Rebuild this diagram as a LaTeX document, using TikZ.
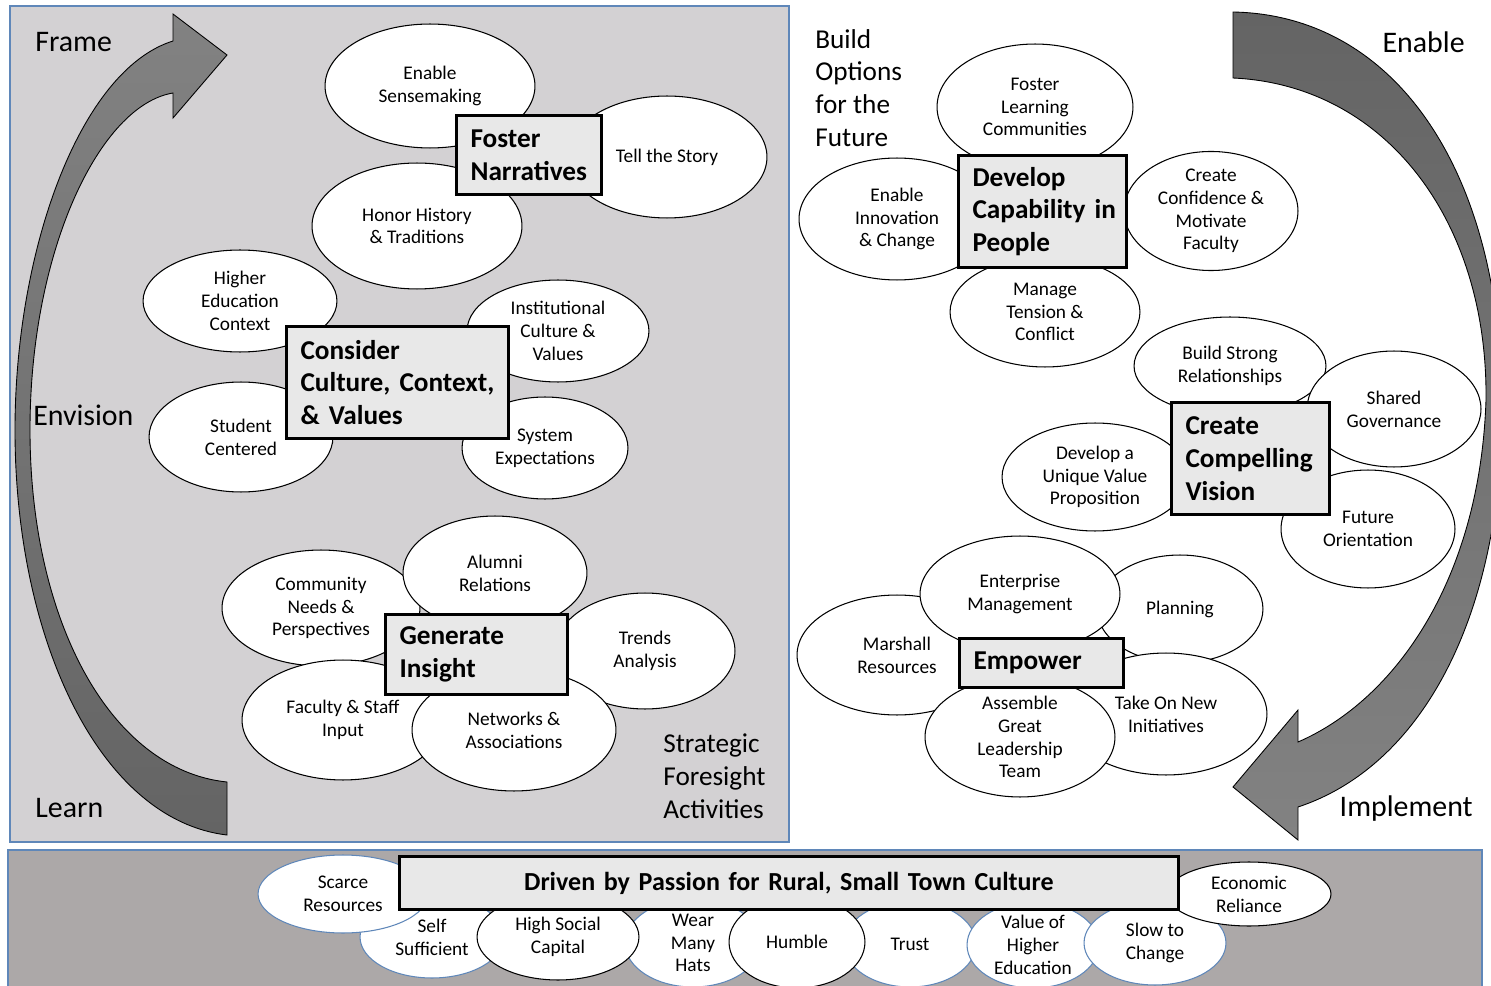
\documentclass[tikz,border=0pt]{standalone}
\usepackage{fontspec}
\setmainfont{Carlito}
\usepackage{xcolor}
\usepackage{tikz}
\usetikzlibrary{shapes.geometric}
\definecolor{panel}{RGB}{211,209,211}
\definecolor{band}{RGB}{172,168,168}
\definecolor{edgeblue}{RGB}{95,135,185}
\definecolor{boxfill}{RGB}{232,232,232}
\definecolor{arrowdark}{RGB}{100,100,100}
\definecolor{arrowlight}{RGB}{130,130,130}

\begin{document}
\begin{tikzpicture}[x=0.02cm, y=-0.02cm,
  bubble/.style={ellipse, draw=black, line width=0.6pt, fill=white, inner sep=0pt, align=center, font=\fontsize{11}{13}\selectfont},
  core/.style={rectangle, draw=black, line width=1.7pt, fill=boxfill, anchor=north west, align=left, inner xsep=8pt, inner ysep=0pt, font=\bfseries\fontsize{15.5}{18.7}\selectfont},
  tag/.style={font=\fontsize{17}{20}\selectfont, inner sep=0pt},
  note/.style={font=\fontsize{15.5}{18.7}\selectfont, align=left, inner sep=0pt}]
 \useasboundingbox (0,0) rectangle (1491,986);
 \draw[fill=panel, draw=edgeblue, line width=0.8pt] (10,6) rectangle (789,842);
 \draw[fill=band, draw=edgeblue, line width=0.8pt] (8,850) rectangle (1482,995);

 \draw[top color=arrowlight, bottom color=arrowdark, line width=0.5pt]
   (227,835) .. controls (100,820) and (15,640) .. (15,430)
   .. controls (15,250) and (80,70) .. (173,41) -- (173,14) -- (227,55) -- (173,118) -- (173,93)
   .. controls (100,105) and (30,250) .. (30,430)
   .. controls (30,620) and (110,770) .. (227,782) -- cycle;
 \draw[top color=arrowdark, bottom color=arrowlight, line width=0.5pt]
   (1233,12) .. controls (1395,15) and (1500,170) .. (1502,400)
   .. controls (1504,610) and (1425,765) .. (1298,807) -- (1298,840) -- (1233,787) -- (1298,710) -- (1298,742)
   .. controls (1395,700) and (1480,580) .. (1486,400)
   .. controls (1488,220) and (1385,85) .. (1233,78) -- cycle;

 \foreach \nm/\cx/\cy/\rx/\ry/\txt in {
   sense/430/86/105/62/{Enable\\Sensemaking}, story/667/157/100/61/{Tell the Story},
   honor/417/226/105/63/{Honor History\\\& Traditions},
   hecontext/240/301/97/51/{Higher\\Education\\Context}, instcult/558/331/91/51/{Institutional\\Culture \&\\Values},
   student/241/437/92/55/{Student\\Centered}, sysexp/545/448/83/51/{System\\Expectations},
   commneeds/321/608/99/58/{Community\\Needs \&\\Perspectives}, alumni/495/573/92/57/{Alumni\\Relations},
   trends/645/651/90/58/{Trends\\Analysis}, facstaff/343/720/101/60/{Faculty \& Staff\\Input},
   networks/514/730/102/61/{Networks \&\\Associations},
   learncomm/1035/107/98/63/{Foster\\Learning\\Communities}, innov/897/219/98/61/{Enable\\Innovation\\\& Change},
   confid/1211/211/87/57/{Create\\Confidence \&\\Motivate\\Faculty}, tension/1045/312/95/55/{Manage\\Tension \&\\Conflict},
   relations/1230/366/96/49/{Build Strong\\Relationships}, governance/1394/409/87/58/{Shared\\Governance},
   uniqueval/1095/477/93/54/{Develop a\\Unique Value\\Proposition}, futureor/1368/529/87/59/{Future\\Orientation},
   marshall/897/655/100/60/{Marshall\\Resources}, planning/1180/609/83/54/{Planning},
   enterprise/1020/594/100/58/{Enterprise\\Management}, newinit/1166/714/101/61/{Take On New\\Initiatives},
   leaders/1020/737/95/60/{Assemble\\Great\\Leadership\\Team}}
   \node[bubble, minimum width=\rx*0.04cm, minimum height=\ry*0.04cm] (\nm) at (\cx,\cy) {\txt};

 \foreach \nm/\cx/\cy/\rx/\ry/\col/\txt in {
   selfsuff/432/937/72/41/edgeblue/{Self\\Sufficient}, scarce/343/894/85/39/edgeblue/{Scarce\\Resources},
   manyhats/693/943/68/44/edgeblue/{Wear\\Many\\Hats}, social/558/937/81/43/black/{High Social\\Capital},
   trust/910/944/66/43/edgeblue/{Trust}, higher/1033/945/66/43/edgeblue/{Value of\\Higher\\Education},
   slow/1155/943/71/42/edgeblue/{Slow to\\Change}, humble/797/942/68/46/black/{Humble},
   economic/1249/894/82/32/black/{Economic\\Reliance}}
   \node[bubble, draw=\col, minimum width=\rx*0.04cm, minimum height=\ry*0.04cm] (\nm) at (\cx,\cy) {\txt};

 \node[core, text width=2.335cm, minimum height=1.58cm] (narratives) at (455,114) {Foster\\Narratives};
 \node[core, text width=3.875cm, minimum height=2.24cm] (culture) at (285,325) {Consider\\\mbox{Culture, Context,}\\\mbox{\& Values}};
 \node[core, text width=3.075cm, minimum height=1.6cm] (insight) at (384,613) {Generate\\Insight};
 \node[core, text width=2.795cm, minimum height=2.24cm] (capability) at (957,154) {Develop\\\mbox{Capability in}\\People};
 \node[core, text width=2.595cm, minimum height=2.24cm] (vision) at (1170,401) {Create\\Compelling\\Vision};
 \node[core, text width=2.715cm, minimum height=0.98cm] (empower) at (958,637) {Empower};
 \node[core, align=center, text width=15.015cm, minimum height=1.06cm, font=\bfseries\fontsize{14.8}{18}\selectfont] (passion) at (398,855) {Driven by Passion for Rural, Small Town Culture};

 \node[tag, anchor=west] (frame) at (35,42) {Frame};
 \node[tag, anchor=west] (envision) at (33,415) {Envision};
 \node[tag, anchor=west] (learn) at (35,808) {Learn};
 \node[tag, anchor=east] (enable) at (1465,42) {Enable};
 \node[tag, anchor=east] (implement) at (1473,809) {Implement};
 \node[note, anchor=west] (buildopt) at (815,88) {Build\\Options\\for the\\Future};
 \node[note, anchor=west] (foresight) at (663,776) {Strategic\\Foresight\\Activities};
\end{tikzpicture}
\end{document}
